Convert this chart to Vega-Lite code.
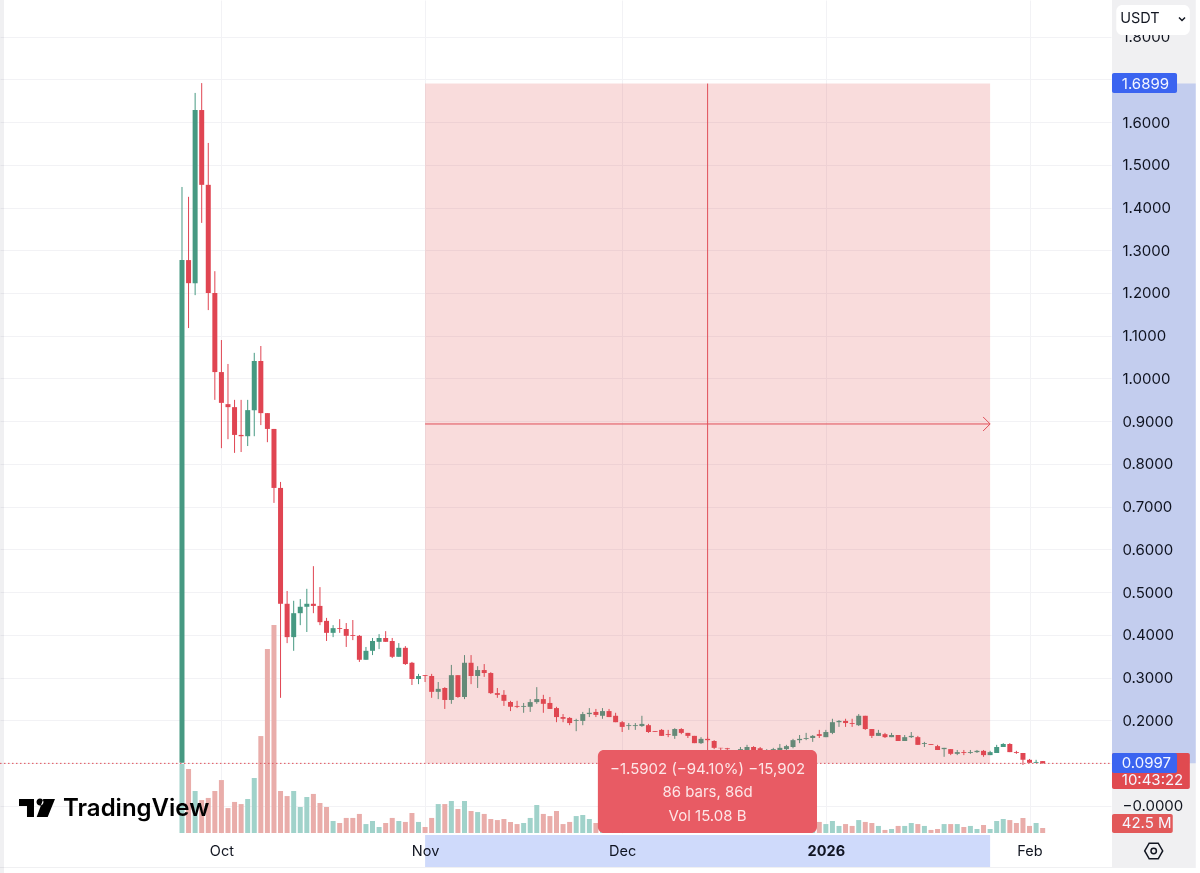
{"$schema":"https://vega.github.io/schema/vega-lite/v6.json","width":1111,"height":833,"autosize":"none","padding":{"left":0,"top":0,"right":89,"bottom":40},"background":"white","config":{"view":{"stroke":null},"font":"Inter"},
"datasets":{"candles":[
{"d":"2025-09-25","o":0.101,"h":1.448,"l":0.101,"c":1.277,"v":587,"dir":"u"},
{"d":"2025-09-26","o":1.277,"h":1.425,"l":1.118,"c":1.223,"v":544,"dir":"d"},
{"d":"2025-09-27","o":1.223,"h":1.668,"l":1.195,"c":1.628,"v":357,"dir":"u"},
{"d":"2025-09-28","o":1.628,"h":1.691,"l":1.364,"c":1.453,"v":280,"dir":"d"},
{"d":"2025-09-29","o":1.453,"h":1.551,"l":1.160,"c":1.200,"v":298,"dir":"d"},
{"d":"2025-09-30","o":1.200,"h":1.251,"l":0.950,"c":1.015,"v":357,"dir":"d"},
{"d":"2025-10-01","o":1.015,"h":1.090,"l":0.837,"c":0.943,"v":450,"dir":"d"},
{"d":"2025-10-02","o":0.940,"h":1.034,"l":0.858,"c":0.933,"v":212,"dir":"d"},
{"d":"2025-10-03","o":0.933,"h":0.950,"l":0.826,"c":0.868,"v":264,"dir":"d"},
{"d":"2025-10-04","o":0.868,"h":0.950,"l":0.828,"c":0.865,"v":246,"dir":"d"},
{"d":"2025-10-05","o":0.865,"h":0.950,"l":0.842,"c":0.926,"v":289,"dir":"u"},
{"d":"2025-10-06","o":0.926,"h":1.060,"l":0.865,"c":1.041,"v":468,"dir":"u"},
{"d":"2025-10-07","o":1.041,"h":1.076,"l":0.891,"c":0.919,"v":824,"dir":"d"},
{"d":"2025-10-08","o":0.919,"h":0.919,"l":0.851,"c":0.882,"v":1564,"dir":"d"},
{"d":"2025-10-09","o":0.882,"h":0.882,"l":0.709,"c":0.744,"v":1768,"dir":"d"},
{"d":"2025-10-10","o":0.744,"h":0.758,"l":0.253,"c":0.473,"v":357,"dir":"d"},
{"d":"2025-10-11","o":0.473,"h":0.503,"l":0.381,"c":0.395,"v":314,"dir":"d"},
{"d":"2025-10-12","o":0.395,"h":0.480,"l":0.363,"c":0.451,"v":357,"dir":"u"},
{"d":"2025-10-13","o":0.451,"h":0.484,"l":0.423,"c":0.466,"v":221,"dir":"u"},
{"d":"2025-10-14","o":0.466,"h":0.508,"l":0.407,"c":0.473,"v":306,"dir":"u"},
{"d":"2025-10-15","o":0.473,"h":0.561,"l":0.451,"c":0.468,"v":332,"dir":"d"},
{"d":"2025-10-16","o":0.468,"h":0.512,"l":0.423,"c":0.430,"v":255,"dir":"d"},
{"d":"2025-10-17","o":0.433,"h":0.440,"l":0.386,"c":0.405,"v":221,"dir":"d"},
{"d":"2025-10-18","o":0.405,"h":0.423,"l":0.395,"c":0.416,"v":102,"dir":"u"},
{"d":"2025-10-19","o":0.416,"h":0.437,"l":0.405,"c":0.414,"v":85,"dir":"d"},
{"d":"2025-10-20","o":0.414,"h":0.428,"l":0.372,"c":0.398,"v":128,"dir":"d"},
{"d":"2025-10-21","o":0.400,"h":0.435,"l":0.388,"c":0.398,"v":128,"dir":"d"},
{"d":"2025-10-22","o":0.398,"h":0.400,"l":0.337,"c":0.342,"v":162,"dir":"d"},
{"d":"2025-10-23","o":0.342,"h":0.372,"l":0.342,"c":0.363,"v":76,"dir":"u"},
{"d":"2025-10-24","o":0.363,"h":0.393,"l":0.353,"c":0.386,"v":102,"dir":"u"},
{"d":"2025-10-25","o":0.384,"h":0.402,"l":0.367,"c":0.393,"v":51,"dir":"u"},
{"d":"2025-10-26","o":0.393,"h":0.409,"l":0.384,"c":0.384,"v":85,"dir":"d"},
{"d":"2025-10-27","o":0.386,"h":0.393,"l":0.346,"c":0.349,"v":128,"dir":"d"},
{"d":"2025-10-28","o":0.349,"h":0.381,"l":0.349,"c":0.370,"v":102,"dir":"u"},
{"d":"2025-10-29","o":0.370,"h":0.374,"l":0.330,"c":0.332,"v":94,"dir":"d"},
{"d":"2025-10-30","o":0.335,"h":0.337,"l":0.283,"c":0.297,"v":170,"dir":"d"},
{"d":"2025-10-31","o":0.297,"h":0.309,"l":0.285,"c":0.304,"v":94,"dir":"u"},
{"d":"2025-11-01","o":0.306,"h":0.306,"l":0.290,"c":0.304,"v":51,"dir":"d"},
{"d":"2025-11-02","o":0.304,"h":0.309,"l":0.253,"c":0.267,"v":128,"dir":"d"},
{"d":"2025-11-03","o":0.267,"h":0.290,"l":0.250,"c":0.274,"v":246,"dir":"u"},
{"d":"2025-11-04","o":0.276,"h":0.278,"l":0.227,"c":0.248,"v":246,"dir":"d"},
{"d":"2025-11-05","o":0.248,"h":0.330,"l":0.239,"c":0.306,"v":272,"dir":"u"},
{"d":"2025-11-06","o":0.306,"h":0.306,"l":0.253,"c":0.255,"v":204,"dir":"d"},
{"d":"2025-11-07","o":0.255,"h":0.353,"l":0.250,"c":0.335,"v":272,"dir":"u"},
{"d":"2025-11-08","o":0.335,"h":0.353,"l":0.285,"c":0.304,"v":187,"dir":"d"},
{"d":"2025-11-09","o":0.304,"h":0.327,"l":0.276,"c":0.318,"v":178,"dir":"u"},
{"d":"2025-11-10","o":0.318,"h":0.332,"l":0.302,"c":0.311,"v":162,"dir":"d"},
{"d":"2025-11-11","o":0.311,"h":0.313,"l":0.262,"c":0.264,"v":119,"dir":"d"},
{"d":"2025-11-12","o":0.264,"h":0.276,"l":0.253,"c":0.260,"v":110,"dir":"d"},
{"d":"2025-11-13","o":0.260,"h":0.271,"l":0.234,"c":0.246,"v":119,"dir":"d"},
{"d":"2025-11-14","o":0.243,"h":0.246,"l":0.222,"c":0.232,"v":94,"dir":"d"},
{"d":"2025-11-15","o":0.234,"h":0.246,"l":0.229,"c":0.232,"v":76,"dir":"d"},
{"d":"2025-11-16","o":0.232,"h":0.241,"l":0.218,"c":0.234,"v":85,"dir":"u"},
{"d":"2025-11-17","o":0.232,"h":0.250,"l":0.220,"c":0.243,"v":128,"dir":"u"},
{"d":"2025-11-18","o":0.243,"h":0.278,"l":0.239,"c":0.250,"v":238,"dir":"u"},
{"d":"2025-11-19","o":0.250,"h":0.260,"l":0.218,"c":0.239,"v":162,"dir":"d"},
{"d":"2025-11-20","o":0.241,"h":0.255,"l":0.227,"c":0.227,"v":144,"dir":"d"},
{"d":"2025-11-21","o":0.229,"h":0.232,"l":0.196,"c":0.208,"v":187,"dir":"d"},
{"d":"2025-11-22","o":0.208,"h":0.215,"l":0.196,"c":0.204,"v":76,"dir":"d"},
{"d":"2025-11-23","o":0.206,"h":0.208,"l":0.189,"c":0.194,"v":94,"dir":"d"},
{"d":"2025-11-24","o":0.199,"h":0.204,"l":0.175,"c":0.201,"v":144,"dir":"u"},
{"d":"2025-11-25","o":0.199,"h":0.220,"l":0.189,"c":0.215,"v":153,"dir":"u"},
{"d":"2025-11-26","o":0.215,"h":0.229,"l":0.208,"c":0.218,"v":119,"dir":"u"},
{"d":"2025-11-27","o":0.220,"h":0.227,"l":0.208,"c":0.213,"v":85,"dir":"d"},
{"d":"2025-11-28","o":0.211,"h":0.229,"l":0.204,"c":0.222,"v":100,"dir":"u"},
{"d":"2025-11-29","o":0.222,"h":0.227,"l":0.208,"c":0.208,"v":90,"dir":"d"},
{"d":"2025-11-30","o":0.211,"h":0.218,"l":0.196,"c":0.196,"v":100,"dir":"d"},
{"d":"2025-12-01","o":0.196,"h":0.199,"l":0.173,"c":0.185,"v":150,"dir":"d"},
{"d":"2025-12-02","o":0.187,"h":0.194,"l":0.178,"c":0.189,"v":110,"dir":"u"},
{"d":"2025-12-03","o":0.187,"h":0.194,"l":0.178,"c":0.189,"v":100,"dir":"u"},
{"d":"2025-12-04","o":0.187,"h":0.211,"l":0.185,"c":0.192,"v":90,"dir":"u"},
{"d":"2025-12-05","o":0.189,"h":0.192,"l":0.171,"c":0.173,"v":110,"dir":"d"},
{"d":"2025-12-06","o":0.175,"h":0.175,"l":0.173,"c":0.173,"v":60,"dir":"d"},
{"d":"2025-12-07","o":0.178,"h":0.180,"l":0.164,"c":0.164,"v":80,"dir":"d"},
{"d":"2025-12-08","o":0.168,"h":0.178,"l":0.161,"c":0.166,"v":100,"dir":"d"},
{"d":"2025-12-09","o":0.164,"h":0.182,"l":0.157,"c":0.180,"v":120,"dir":"u"},
{"d":"2025-12-10","o":0.180,"h":0.182,"l":0.168,"c":0.171,"v":100,"dir":"d"},
{"d":"2025-12-11","o":0.171,"h":0.171,"l":0.159,"c":0.164,"v":90,"dir":"d"},
{"d":"2025-12-12","o":0.164,"h":0.164,"l":0.147,"c":0.147,"v":120,"dir":"d"},
{"d":"2025-12-13","o":0.147,"h":0.161,"l":0.145,"c":0.157,"v":70,"dir":"u"},
{"d":"2025-12-14","o":0.157,"h":0.161,"l":0.150,"c":0.154,"v":60,"dir":"d"},
{"d":"2025-12-15","o":0.152,"h":0.154,"l":0.133,"c":0.136,"v":130,"dir":"d"},
{"d":"2025-12-16","o":0.136,"h":0.136,"l":0.126,"c":0.135,"v":110,"dir":"d"},
{"d":"2025-12-17","o":0.135,"h":0.136,"l":0.129,"c":0.133,"v":100,"dir":"d"},
{"d":"2025-12-18","o":0.128,"h":0.130,"l":0.122,"c":0.126,"v":100,"dir":"d"},
{"d":"2025-12-19","o":0.126,"h":0.138,"l":0.120,"c":0.133,"v":90,"dir":"u"},
{"d":"2025-12-20","o":0.127,"h":0.143,"l":0.122,"c":0.138,"v":60,"dir":"u"},
{"d":"2025-12-21","o":0.138,"h":0.140,"l":0.125,"c":0.128,"v":60,"dir":"d"},
{"d":"2025-12-22","o":0.135,"h":0.138,"l":0.124,"c":0.127,"v":80,"dir":"d"},
{"d":"2025-12-23","o":0.125,"h":0.133,"l":0.120,"c":0.131,"v":70,"dir":"u"},
{"d":"2025-12-24","o":0.127,"h":0.136,"l":0.122,"c":0.133,"v":60,"dir":"u"},
{"d":"2025-12-25","o":0.128,"h":0.145,"l":0.124,"c":0.136,"v":50,"dir":"u"},
{"d":"2025-12-26","o":0.133,"h":0.143,"l":0.128,"c":0.140,"v":70,"dir":"u"},
{"d":"2025-12-27","o":0.138,"h":0.157,"l":0.135,"c":0.154,"v":60,"dir":"u"},
{"d":"2025-12-28","o":0.154,"h":0.166,"l":0.147,"c":0.157,"v":50,"dir":"u"},
{"d":"2025-12-29","o":0.157,"h":0.171,"l":0.154,"c":0.159,"v":70,"dir":"u"},
{"d":"2025-12-30","o":0.159,"h":0.166,"l":0.150,"c":0.164,"v":70,"dir":"u"},
{"d":"2025-12-31","o":0.168,"h":0.178,"l":0.159,"c":0.164,"v":94,"dir":"d"},
{"d":"2026-01-01","o":0.161,"h":0.178,"l":0.161,"c":0.173,"v":76,"dir":"u"},
{"d":"2026-01-02","o":0.171,"h":0.204,"l":0.168,"c":0.196,"v":102,"dir":"u"},
{"d":"2026-01-03","o":0.196,"h":0.201,"l":0.185,"c":0.199,"v":60,"dir":"u"},
{"d":"2026-01-04","o":0.199,"h":0.204,"l":0.185,"c":0.194,"v":76,"dir":"d"},
{"d":"2026-01-05","o":0.194,"h":0.204,"l":0.185,"c":0.192,"v":60,"dir":"d"},
{"d":"2026-01-06","o":0.189,"h":0.215,"l":0.187,"c":0.211,"v":110,"dir":"u"},
{"d":"2026-01-07","o":0.211,"h":0.211,"l":0.178,"c":0.180,"v":94,"dir":"d"},
{"d":"2026-01-08","o":0.180,"h":0.180,"l":0.159,"c":0.164,"v":85,"dir":"d"},
{"d":"2026-01-09","o":0.164,"h":0.178,"l":0.164,"c":0.171,"v":60,"dir":"u"},
{"d":"2026-01-10","o":0.168,"h":0.171,"l":0.159,"c":0.161,"v":26,"dir":"d"},
{"d":"2026-01-11","o":0.161,"h":0.171,"l":0.161,"c":0.166,"v":34,"dir":"u"},
{"d":"2026-01-12","o":0.166,"h":0.166,"l":0.152,"c":0.152,"v":60,"dir":"d"},
{"d":"2026-01-13","o":0.152,"h":0.166,"l":0.152,"c":0.161,"v":60,"dir":"u"},
{"d":"2026-01-14","o":0.161,"h":0.173,"l":0.159,"c":0.164,"v":85,"dir":"u"},
{"d":"2026-01-15","o":0.161,"h":0.164,"l":0.143,"c":0.143,"v":76,"dir":"d"},
{"d":"2026-01-16","o":0.145,"h":0.150,"l":0.138,"c":0.147,"v":60,"dir":"u"},
{"d":"2026-01-17","o":0.145,"h":0.145,"l":0.143,"c":0.143,"v":26,"dir":"d"},
{"d":"2026-01-18","o":0.140,"h":0.143,"l":0.131,"c":0.131,"v":34,"dir":"d"},
{"d":"2026-01-19","o":0.133,"h":0.136,"l":0.115,"c":0.136,"v":76,"dir":"u"},
{"d":"2026-01-20","o":0.133,"h":0.133,"l":0.119,"c":0.122,"v":76,"dir":"d"},
{"d":"2026-01-21","o":0.122,"h":0.131,"l":0.119,"c":0.126,"v":76,"dir":"u"},
{"d":"2026-01-22","o":0.126,"h":0.131,"l":0.119,"c":0.124,"v":51,"dir":"d"},
{"d":"2026-01-23","o":0.124,"h":0.131,"l":0.122,"c":0.126,"v":60,"dir":"u"},
{"d":"2026-01-24","o":0.126,"h":0.131,"l":0.124,"c":0.129,"v":34,"dir":"u"},
{"d":"2026-01-25","o":0.129,"h":0.131,"l":0.115,"c":0.119,"v":68,"dir":"d"},
{"d":"2026-01-26","o":0.119,"h":0.129,"l":0.119,"c":0.126,"v":34,"dir":"u"},
{"d":"2026-01-27","o":0.124,"h":0.143,"l":0.124,"c":0.138,"v":102,"dir":"u"},
{"d":"2026-01-28","o":0.138,"h":0.147,"l":0.138,"c":0.145,"v":119,"dir":"u"},
{"d":"2026-01-29","o":0.145,"h":0.147,"l":0.126,"c":0.126,"v":110,"dir":"d"},
{"d":"2026-01-30","o":0.126,"h":0.129,"l":0.122,"c":0.124,"v":85,"dir":"d"},
{"d":"2026-01-31","o":0.124,"h":0.124,"l":0.096,"c":0.108,"v":128,"dir":"d"},
{"d":"2026-02-01","o":0.108,"h":0.110,"l":0.101,"c":0.101,"v":60,"dir":"d"},
{"d":"2026-02-02","o":0.101,"h":0.108,"l":0.101,"c":0.103,"v":85,"dir":"u"},
{"d":"2026-02-03","o":0.105,"h":0.105,"l":0.0997,"c":0.0997,"v":42.5,"dir":"d"}
]},
"encoding":{"x":{"field":"d","type":"temporal","title":null,"scale":{"type":"utc","padding":0,"domain":["2025-08-28T07:12:00Z","2026-02-13T09:36:00Z"]},"axis":{"orient":"bottom","values":[{"year":2025,"month":10,"date":1,"utc":true},{"year":2025,"month":11,"date":1,"utc":true},{"year":2025,"month":12,"date":1,"utc":true},{"year":2026,"month":1,"date":1,"utc":true},{"year":2026,"month":2,"date":1,"utc":true}],"labelExpr":"utcmonth(datum.value)==0?'2026':utcFormat(datum.value,'%b')","labelFontWeight":{"condition":{"test":"utcmonth(datum.value)==0","value":"bold"},"value":"normal"},"labelFont":"Inter","labelFontSize":14.5,"labelColor":"#131722","labelPadding":18,"labelBaseline":"middle","labelAlign":"center","labelOverlap":false,"labelFlush":false,"labelBound":false,"ticks":false,"domain":false,"grid":true,"gridColor":"#f2f2f5","gridWidth":1}}},
"resolve":{"scale":{"y":"independent","color":"independent"},"axis":{"y":"independent"}},
"layer":[
{"layer":[
{"data":{"values":[{"d":"2026-02-13T13:12:00Z","d2":"2026-02-26T07:12:00Z","p":1.8854,"p2":-0.1427},{"d":"2025-08-28T07:12:00Z","d2":"2025-08-28T21:50:00Z","p":1.8854,"p2":-0.1567},{"d":"2025-08-28T07:12:00Z","d2":"2026-02-26T07:12:00Z","p":-0.1427,"p2":-0.1450}]},"mark":{"type":"rect","color":"#f0f0f2","blend":"multiply"},"encoding":{"x2":{"field":"d2"},"y":{"field":"p","type":"quantitative","title":null,"scale":{"domain":[-0.0632,1.8854],"nice":false,"zero":false},"axis":{"orient":"right","values":[0,0.1,0.2,0.3,0.4,0.5,0.6,0.7,0.8,0.9,1,1.1,1.2,1.3,1.4,1.5,1.6,1.7,1.8],"labelExpr":"abs(datum.value)<0.001?'−0.0000':(abs(datum.value-0.1)<0.001||abs(datum.value-1.7)<0.001)?'':format(datum.value,'.4f')","labelFont":"Inter","labelFontSize":15,"labelColor":"#131722","labelPadding":11,"labelAlign":"left","labelBaseline":"middle","labelOverlap":false,"labelFlush":false,"labelBound":false,"ticks":false,"domain":false,"grid":true,"gridColor":"#f2f2f5","gridWidth":1}},"y2":{"field":"p2"}}},
{"data":{"values":[{"d":"2026-02-13T13:12:00Z","d2":"2026-02-26T07:12:00Z","p":1.6899,"p2":0.0997},{"d":"2025-11-01","d2":"2026-01-26","p":-0.0678,"p2":-0.1427}]},"mark":{"type":"rect","color":"#cfdafb","blend":"multiply"},"encoding":{"x2":{"field":"d2"},"y":{"field":"p","type":"quantitative"},"y2":{"field":"p2"}}}
]},
{"layer":[
{"data":{"name":"candles"},"mark":{"type":"bar","size":5,"orient":"vertical"},"encoding":{"y":{"field":"v","type":"quantitative","scale":{"domain":[0,7080.5],"nice":false,"zero":false},"axis":null},"color":{"field":"dir","type":"nominal","legend":null,"scale":{"domain":["u","d"],"range":["#a0d2ca","#e9adaa"]}}}}
]},
{"layer":[
{"data":{"name":"candles"},"mark":{"type":"rule","strokeWidth":1},"encoding":{"y":{"field":"h","type":"quantitative","scale":{"domain":[-0.0632,1.8854],"nice":false,"zero":false},"axis":null},"y2":{"field":"l"},"color":{"field":"dir","type":"nominal","legend":null,"scale":{"domain":["u","d"],"range":["#469982","#e04552"]}}}},
{"data":{"name":"candles"},"mark":{"type":"bar","size":5,"orient":"vertical"},"encoding":{"y":{"field":"o","type":"quantitative"},"y2":{"field":"c"},"color":{"field":"dir","type":"nominal","legend":null}}},
{"data":{"values":[{"d":"2025-11-01","d2":"2026-01-26","p":1.6899,"p2":0.0997}]},"mark":{"type":"rect","color":"#e05050","opacity":0.2},"encoding":{"x2":{"field":"d2"},"y":{"field":"p","type":"quantitative"},"y2":{"field":"p2"}}},
{"data":{"values":[{"d":"2025-08-28T07:12:00Z","d2":"2026-02-13T09:36:00Z","p":0.0997}]},"mark":{"type":"rule","color":"#e0505a","strokeWidth":1,"strokeDash":[1.5,2.5]},"encoding":{"x2":{"field":"d2"},"y":{"field":"p","type":"quantitative"}}},
{"data":{"values":[{"d":"2025-11-01","d2":"2026-01-26","p":0.8936,"p2":0.8936},{"d":"2025-12-14","d2":"2025-12-14","p":1.6899,"p2":0.0997}]},"mark":{"type":"rule","color":"#e0505a","strokeWidth":1},"encoding":{"x2":{"field":"d2"},"y":{"field":"p","type":"quantitative"},"y2":{"field":"p2"}}},
{"data":{"values":[{"d":"2026-01-26","p":0.8936}]},"mark":{"type":"point","shape":"M-1,-1L0,0L-1,1","size":196,"filled":false,"fill":"transparent","color":"#e0505a","strokeWidth":1,"opacity":1},"encoding":{"y":{"field":"p","type":"quantitative"}}},
{"data":{"values":[{"d":"2025-11-27T07:12:00Z","d2":"2025-12-30T15:36:00Z","p":0.131,"p2":-0.0632}]},"mark":{"type":"rect","color":"#e85b64","cornerRadius":6},"encoding":{"x2":{"field":"d2"},"y":{"field":"p","type":"quantitative"},"y2":{"field":"p2"}}},
{"data":{"values":[{"d":"2025-12-14","p":0.0865,"t":"−1.5902 (−94.10%) −15,902"},{"d":"2025-12-14","p":0.0327,"t":"86 bars, 86d"},{"d":"2025-12-14","p":-0.0234,"t":"Vol 15.08 B"}]},"mark":{"type":"text","font":"Inter","fontSize":15,"color":"#fde6e7","align":"center","baseline":"middle"},"encoding":{"y":{"field":"p","type":"quantitative"},"text":{"field":"t"}}},
{"data":{"values":[{"d":"2026-02-13T13:12:00Z","d2":"2026-02-25T09:36:00Z","p":0.1240,"p2":0.0398}]},"mark":{"type":"rect","color":"#e04a50","cornerRadius":2},"encoding":{"x2":{"field":"d2"},"y":{"field":"p","type":"quantitative"},"y2":{"field":"p2"}}},
{"data":{"values":[{"d":"2026-02-13T13:12:00Z","d2":"2026-02-22T19:12:00Z","p":-0.0187,"p2":-0.0632}]},"mark":{"type":"rect","color":"#e2595a","cornerRadius":2},"encoding":{"x2":{"field":"d2"},"y":{"field":"p","type":"quantitative"},"y2":{"field":"p2"}}},
{"data":{"values":[{"d":"2026-02-13T13:12:00Z","d2":"2026-02-23T10:48:00Z","p":1.7146,"p2":1.6678},{"d":"2026-02-13T13:12:00Z","d2":"2026-02-23T10:48:00Z","p":0.1240,"p2":0.0772}]},"mark":{"type":"rect","color":"#3b64f0","cornerRadius":2},"encoding":{"x2":{"field":"d2"},"y":{"field":"p","type":"quantitative"},"y2":{"field":"p2"}}},
{"data":{"values":[{"d":"2026-02-15T01:00:00Z","p":1.6899,"t":"1.6899"},{"d":"2026-02-15T01:00:00Z","p":0.1006,"t":"0.0997"},{"d":"2026-02-15T01:00:00Z","p":0.0608,"t":"10:43:22"},{"d":"2026-02-15T01:00:00Z","p":-0.0409,"t":"42.5 M"}]},"mark":{"type":"text","font":"Inter","fontSize":15,"color":"#f4f6ff","align":"left","baseline":"middle"},"encoding":{"y":{"field":"p","type":"quantitative"},"text":{"field":"t"}}},
{"data":{"values":[{"d":"2026-02-14T05:00:00Z","d2":"2026-02-25T09:36:00Z","p":1.8737,"p2":1.8035}]},"mark":{"type":"rect","color":"#ffffff","cornerRadius":6},"encoding":{"x2":{"field":"d2"},"y":{"field":"p","type":"quantitative"},"y2":{"field":"p2"}}},
{"data":{"values":[{"d":"2026-02-14T19:12:00Z","p":1.841,"t":"USDT"}]},"mark":{"type":"text","font":"Inter","fontSize":14.5,"color":"#131722","align":"left","baseline":"middle"},"encoding":{"y":{"field":"p","type":"quantitative"},"text":{"field":"t"}}},
{"data":{"values":[{"d":"2026-02-24T05:00:00Z","p":1.841}]},"mark":{"type":"point","shape":"M-1,-0.5L0,0.5L1,-0.5","size":36,"filled":false,"fill":"transparent","color":"#131722","strokeWidth":1.5,"opacity":1},"encoding":{"y":{"field":"p","type":"quantitative"}}},
{"data":{"values":[{"d":"2026-02-19T21:36:00Z","p":-0.1053}]},"mark":{"type":"point","shape":"M-1,0L-0.5,-0.866L0.5,-0.866L1,0L0.5,0.866L-0.5,0.866ZM-0.3,0a0.3,0.3 0 1,0 0.6,0a0.3,0.3 0 1,0 -0.6,0Z","size":324,"filled":false,"fill":"transparent","color":"#131722","strokeWidth":1.5,"opacity":1},"encoding":{"y":{"field":"p","type":"quantitative"}}},
{"data":{"values":[{"d":"2025-09-02T22:19:00Z","p":-0.0047}]},"mark":{"type":"point","shape":"M-1,-0.5L-0.167,-0.5L-0.167,0.5L-0.556,0.5L-0.556,-0.111L-1,-0.111ZM0.35,-0.5L1,-0.5L0.594,0.5L-0.017,0.5ZM-0.027,-0.333a0.194,0.194 0 1,0 0.388,0a0.194,0.194 0 1,0 -0.388,0Z","size":1296,"filled":true,"color":"#000000","opacity":1},"encoding":{"y":{"field":"p","type":"quantitative"}}},
{"data":{"values":[{"d":"2025-09-06T21:36:00Z","p":-0.007,"t":"TradingView"}]},"mark":{"type":"text","font":"Inter","fontSize":24,"fontWeight":600,"color":"#000000","align":"left","baseline":"middle"},"encoding":{"y":{"field":"p","type":"quantitative"},"text":{"field":"t"}}}
]}
]}
